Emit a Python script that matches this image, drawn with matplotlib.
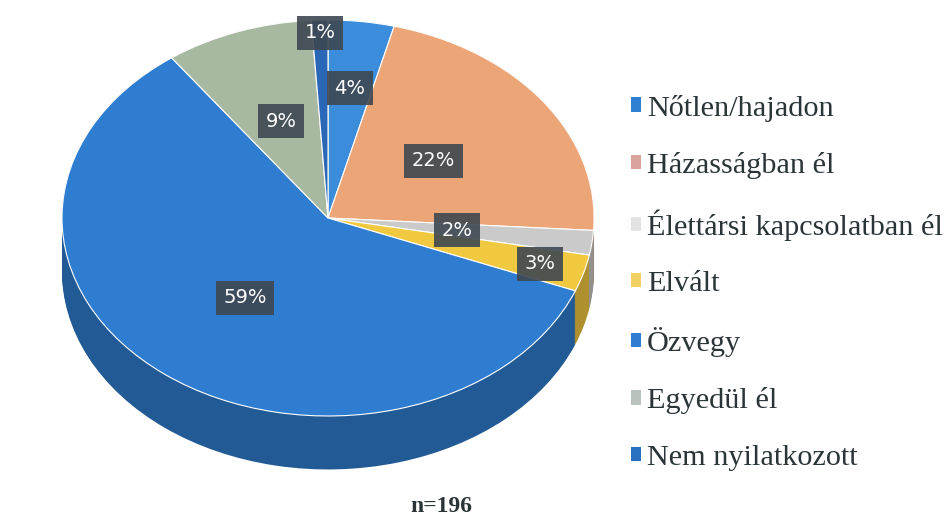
import numpy as np
import matplotlib.pyplot as plt
from matplotlib.patches import Patch
from matplotlib.colors import to_rgb

# Családi állapot megoszlása (%)
categories = ["Nőtlen/hajadon", "Házasságban él", "Élettársi kapcsolatban él",
              "Elvált", "Özvegy", "Egyedül él", "Nem nyilatkozott"]
values = [4, 22, 2, 3, 59, 9, 1]
sample_note = "n=196"

colors = ["#3b8ddb", "#eca577", "#cacaca", "#f1c940", "#2f7dd0", "#a8b9a2", "#2a67b6"]
legend_colors = ["#2f7fd2", "#d9a49c", "#e2e2e2", "#f0d060", "#2f7dd0", "#b9c2bd", "#2a70c0"]
label_radius = [0.66, 0.49, 0.49, 0.83, 0.51, 0.52, 0.935]


def main():
    fig = plt.figure(figsize=(9.47, 5.25), dpi=100)
    ax = fig.add_axes([0, 0, 0.66, 1])

    # fake 3D: stack darker copies of the pie below the top face
    side_colors = [tuple(c * 0.72 for c in to_rgb(col)) for col in colors]
    depth = 0.27
    for off in np.linspace(depth, 0.0, 30):
        ax.pie(values, colors=side_colors, startangle=90, counterclock=False,
               center=(0, -off), wedgeprops=dict(linewidth=0))
    ax.pie(values, colors=colors, startangle=90, counterclock=False,
           wedgeprops=dict(edgecolor="white", linewidth=0.8))

    # percent labels in dark boxes
    total = sum(values)
    cum = np.cumsum(values)
    mid = cum - np.array(values) / 2
    theta = np.deg2rad(90 - 360 * mid / total)
    for v, t, r in zip(values, theta, label_radius):
        ax.text(r * np.cos(t), r * np.sin(t), f"{v}%", ha="center", va="center",
                color="white", fontsize=14, family="DejaVu Sans",
                bbox=dict(boxstyle="square,pad=0.38", fc="#3e4751", ec="none", alpha=0.9))

    # 1 x unit = 266 px, 1 y unit = 198 px, pie centre at (328, 218) px
    ax.set_aspect("auto")
    ax.set_xlim(-328 / 266, (625 - 328) / 266)
    ax.set_ylim(-(525 - 218) / 198, 218 / 198)
    ax.axis("off")

    handles = [Patch(facecolor=c, edgecolor="none") for c in legend_colors]
    fig.legend(handles, categories, loc="upper left", bbox_to_anchor=(0.666, 0.82),
               frameon=False, prop=dict(family="Liberation Serif", size=21.8),
               handlelength=0.35, handleheight=0.35, handletextpad=0.18,
               labelspacing=1.0, borderpad=0, borderaxespad=0, labelcolor="#2b3538")

    fig.text(0.466, 0.036, sample_note, ha="center", va="center",
             family="Liberation Serif", fontsize=17, fontweight="bold", color="#2b3538")

    fig.savefig("out.png", dpi=100, facecolor="white")


if __name__ == "__main__":
    main()
